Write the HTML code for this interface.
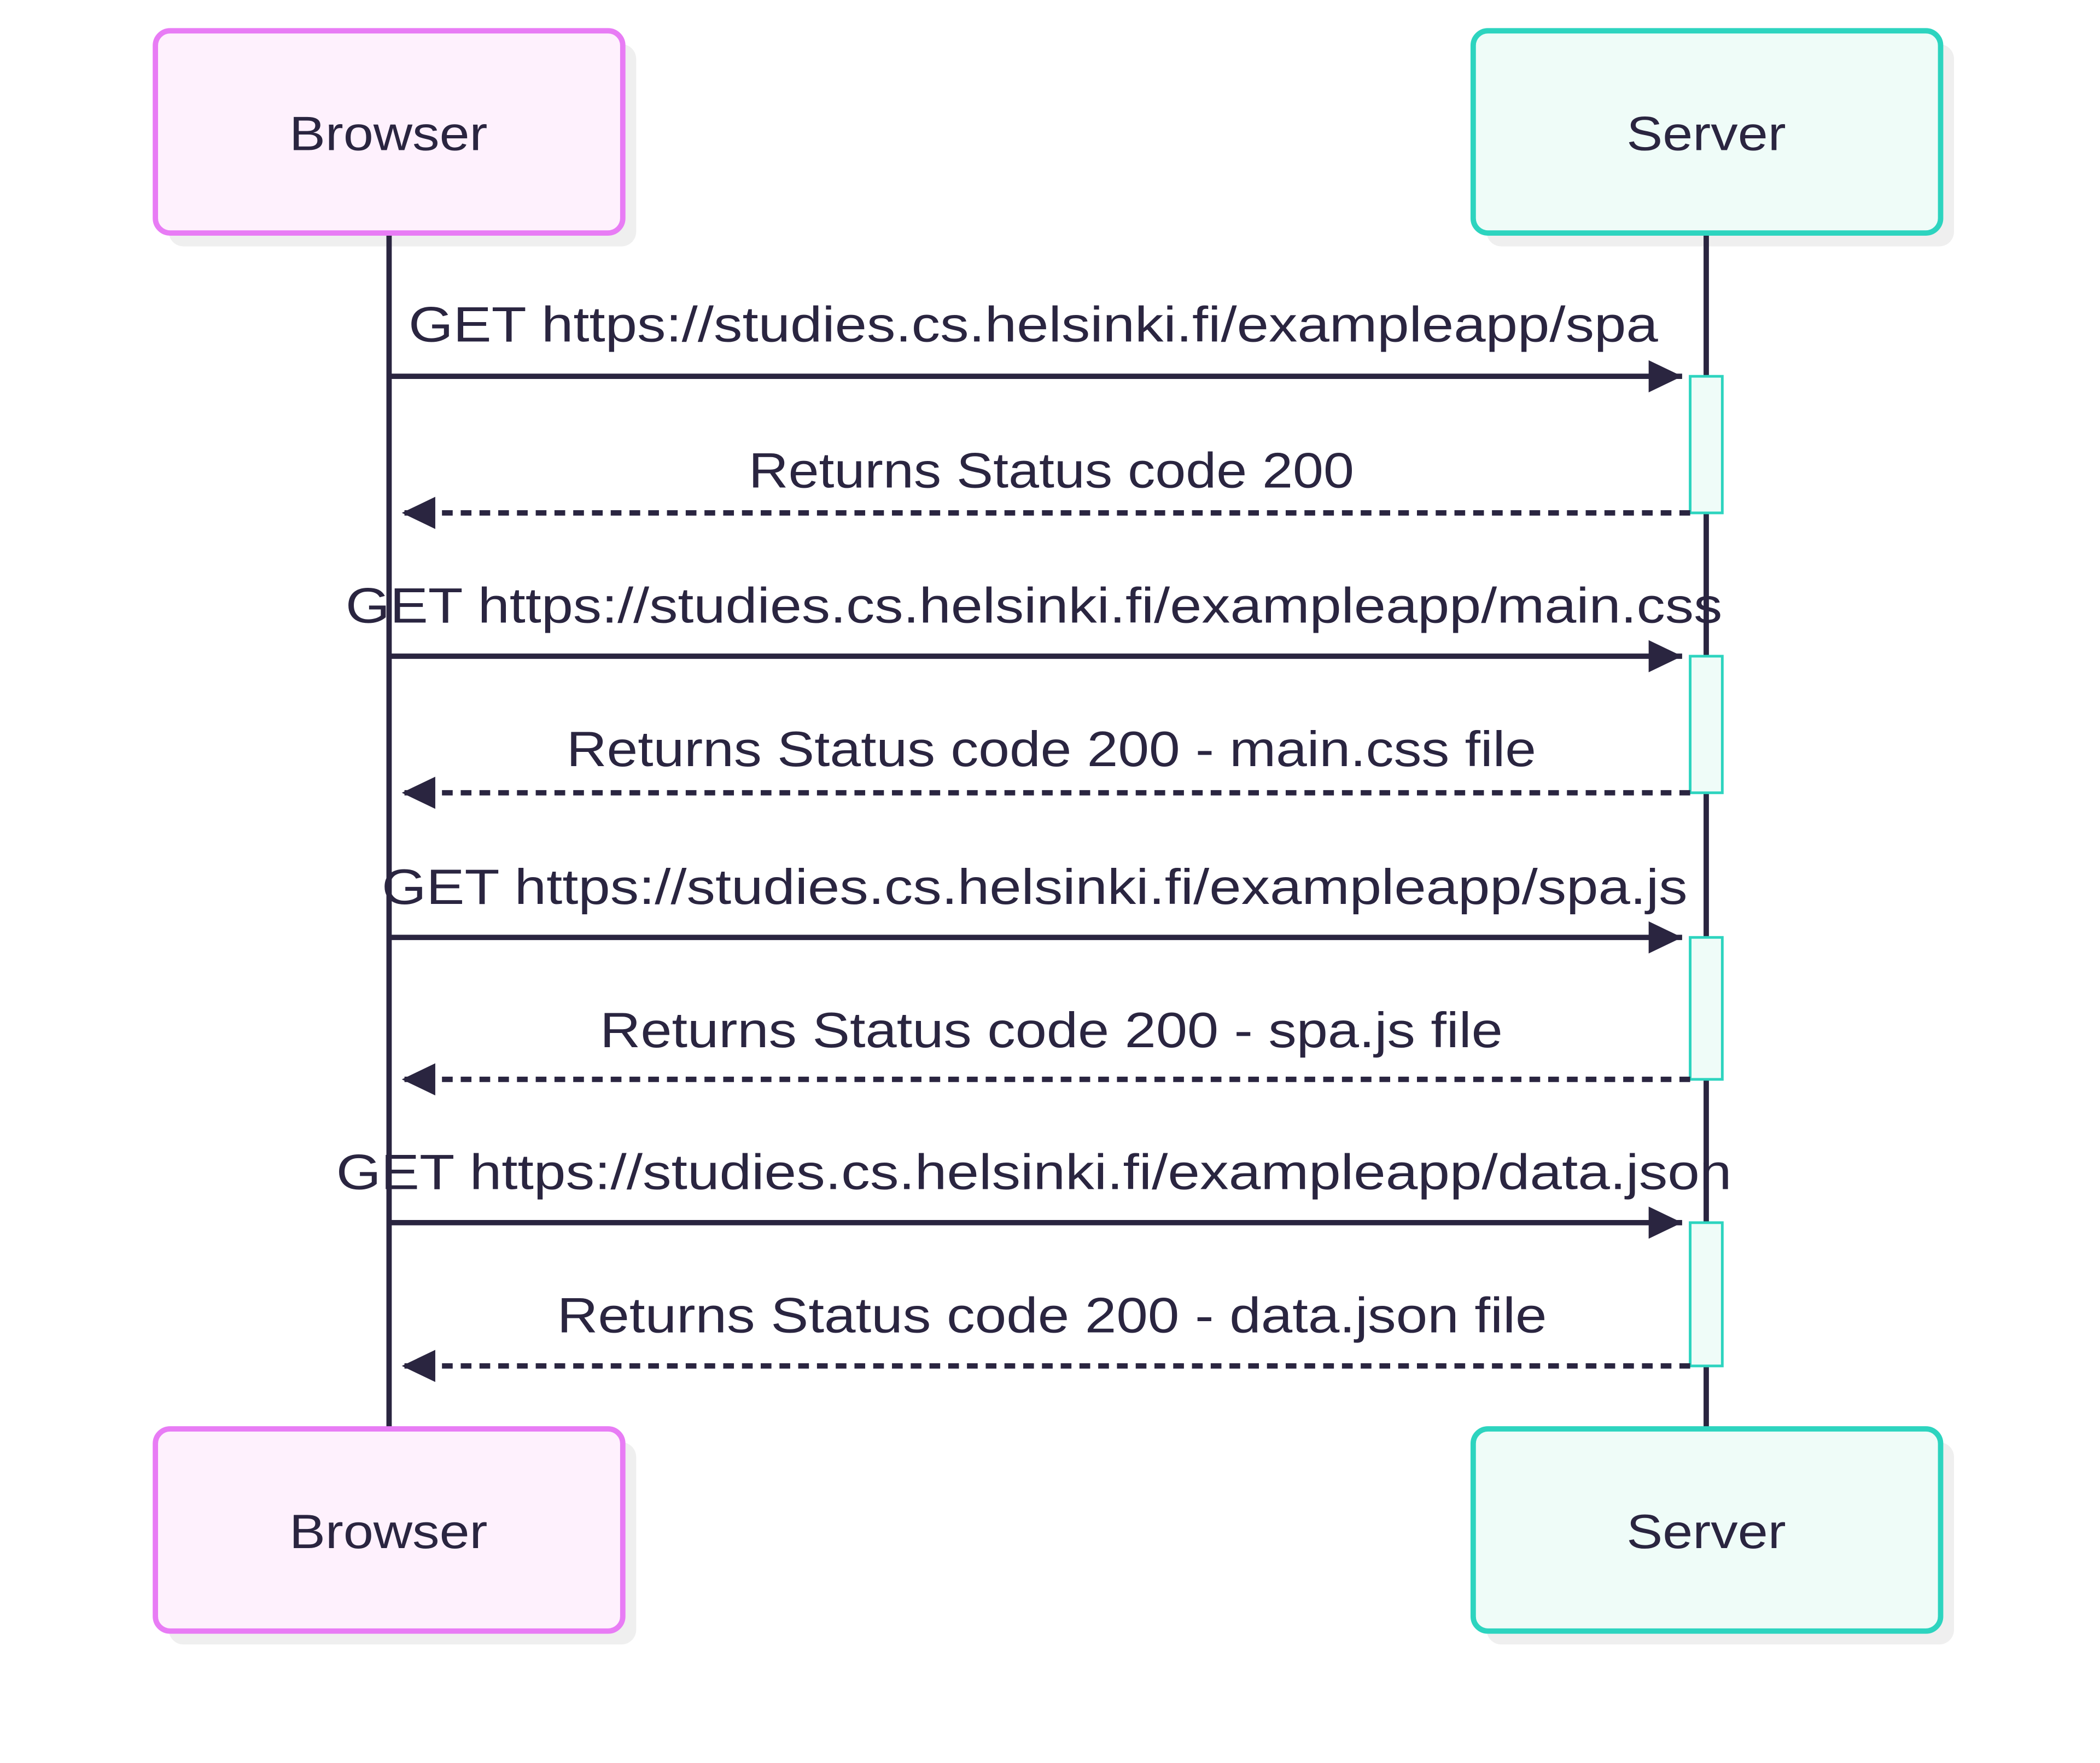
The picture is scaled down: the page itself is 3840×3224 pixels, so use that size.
<!DOCTYPE html>
<html><head><meta charset="utf-8"><style>
html,body{margin:0;padding:0;background:#fff;}
svg{display:block;}
text{font-family:"Liberation Sans",sans-serif;fill:#2a2540;}
</style></head><body>
<svg width="3840" height="3224" viewBox="0 0 1568 1316.5" xmlns="http://www.w3.org/2000/svg">
<defs>
<marker id="ah" markerWidth="25" markerHeight="24" refX="25" refY="12" orient="auto" markerUnits="userSpaceOnUse"><path d="M0,0 L25,12 L0,24 z" fill="#2a2540"/></marker>
</defs>
<rect x="126" y="33" width="349" height="151" rx="11" fill="#efefef"/>
<rect x="1110" y="33" width="349" height="151" rx="11" fill="#efefef"/>
<rect x="126" y="1077" width="349" height="151" rx="11" fill="#efefef"/>
<rect x="1110" y="1077" width="349" height="151" rx="11" fill="#efefef"/>
<line x1="290.5" y1="174" x2="290.5" y2="1067" stroke="#2a2540" stroke-width="4"/>
<line x1="1274" y1="174" x2="1274" y2="1067" stroke="#2a2540" stroke-width="4"/>
<rect x="116" y="23" width="349" height="151" rx="11" fill="#fef1fd" stroke="#e87cf5" stroke-width="4"/>
<rect x="1100" y="23" width="349" height="151" rx="11" fill="#effcf8" stroke="#2dd4bf" stroke-width="4"/>
<rect x="116" y="1067" width="349" height="151" rx="11" fill="#fef1fd" stroke="#e87cf5" stroke-width="4"/>
<rect x="1100" y="1067" width="349" height="151" rx="11" fill="#effcf8" stroke="#2dd4bf" stroke-width="4"/>
<text x="290" y="112" font-size="36" text-anchor="middle" textLength="148" lengthAdjust="spacingAndGlyphs">Browser</text>
<text x="1274" y="112" font-size="36" text-anchor="middle" textLength="119" lengthAdjust="spacingAndGlyphs">Server</text>
<text x="290" y="1156" font-size="36" text-anchor="middle" textLength="148" lengthAdjust="spacingAndGlyphs">Browser</text>
<text x="1274" y="1156" font-size="36" text-anchor="middle" textLength="119" lengthAdjust="spacingAndGlyphs">Server</text>
<g fill="#effcf8" stroke="#2dd4bf" stroke-width="2">
<rect x="1262" y="281" width="24" height="102"/>
<rect x="1262" y="490" width="24" height="102"/>
<rect x="1262" y="700" width="24" height="106"/>
<rect x="1262" y="913" width="24" height="107"/>
</g>
<g stroke="#2a2540" stroke-width="4" fill="none">
<line x1="292" y1="281" x2="1256" y2="281" marker-end="url(#ah)"/>
<line x1="1262" y1="383" x2="300" y2="383" stroke-dasharray="8,6" marker-end="url(#ah)"/>
<line x1="292" y1="490" x2="1256" y2="490" marker-end="url(#ah)"/>
<line x1="1262" y1="592" x2="300" y2="592" stroke-dasharray="8,6" marker-end="url(#ah)"/>
<line x1="292" y1="700" x2="1256" y2="700" marker-end="url(#ah)"/>
<line x1="1262" y1="806" x2="300" y2="806" stroke-dasharray="8,6" marker-end="url(#ah)"/>
<line x1="292" y1="913" x2="1256" y2="913" marker-end="url(#ah)"/>
<line x1="1262" y1="1020" x2="300" y2="1020" stroke-dasharray="8,6" marker-end="url(#ah)"/>
</g>
<g font-size="37">
<text x="305" y="255" textLength="933" lengthAdjust="spacingAndGlyphs">GET https://studies.cs.helsinki.fi/exampleapp/spa</text>
<text x="559" y="364" textLength="452" lengthAdjust="spacingAndGlyphs">Returns Status code 200</text>
<text x="258" y="465" textLength="1028" lengthAdjust="spacingAndGlyphs">GET https://studies.cs.helsinki.fi/exampleapp/main.css</text>
<text x="423" y="572" textLength="724" lengthAdjust="spacingAndGlyphs">Returns Status code 200 - main.css file</text>
<text x="285" y="675" textLength="975" lengthAdjust="spacingAndGlyphs">GET https://studies.cs.helsinki.fi/exampleapp/spa.js</text>
<text x="448" y="782" textLength="674" lengthAdjust="spacingAndGlyphs">Returns Status code 200 - spa.js file</text>
<text x="251" y="888" textLength="1042" lengthAdjust="spacingAndGlyphs">GET https://studies.cs.helsinki.fi/exampleapp/data.json</text>
<text x="416" y="995" textLength="739" lengthAdjust="spacingAndGlyphs">Returns Status code 200 - data.json file</text>
</g>
</svg>
</body></html>
